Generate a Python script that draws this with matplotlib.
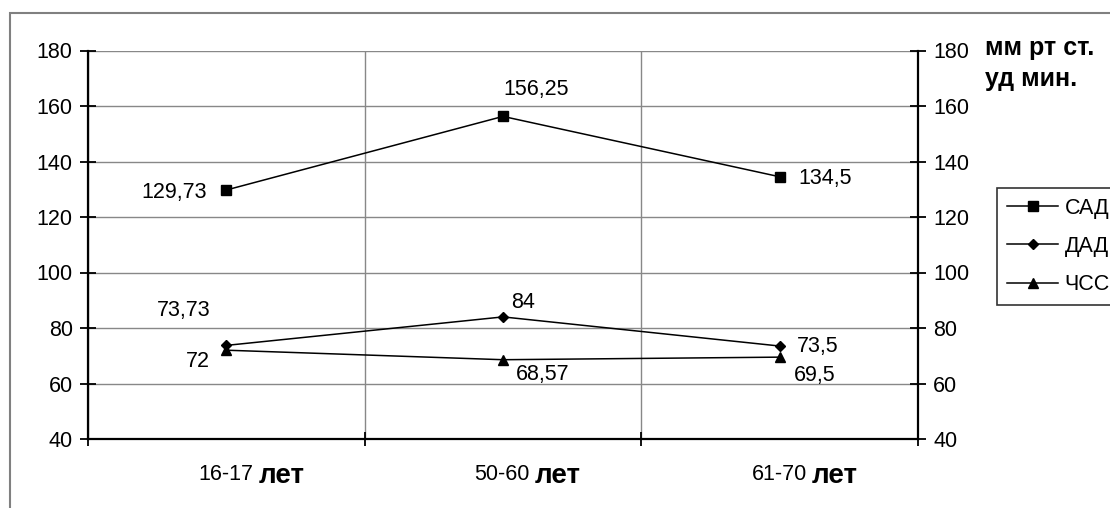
import numpy as np
import matplotlib.pyplot as plt
from matplotlib.patches import Rectangle

plt.rcParams['font.family'] = ['Liberation Sans', 'DejaVu Sans']

# группы по возрасту
groups = ['16-17', '50-60', '61-70']
sad = [129.73, 156.25, 134.5]
dad = [73.73, 84, 73.5]
chss = [72, 68.57, 69.5]

sad_labels = ['129,73', '156,25', '134,5']
dad_labels = ['73,73', '84', '73,5']
chss_labels = ['72', '68,57', '69,5']

yticks = [40, 60, 80, 100, 120, 140, 160, 180]

FS = 15.5

fig = plt.figure(figsize=(11.1, 5.08), dpi=100)
ax = fig.add_axes([88 / 1110, 1 - 439 / 508, 830 / 1110, 388.5 / 508])

x = np.arange(len(groups)) + 0.5
ax.plot(x, sad, color='black', lw=1.1, marker='s', ms=7.5, label='САД')
ax.plot(x, dad, color='black', lw=1.1, marker='D', ms=5, label='ДАД')
ax.plot(x, chss, color='black', lw=1.1, marker='^', ms=7.5, label='ЧСС')

ax.set_xlim(0, 3)
ax.set_ylim(40, 180)
ax.set_yticks(yticks)
ax.set_xticks([0, 1, 2, 3])
ax.set_xticklabels([])

ax.grid(True, color='#888888', lw=1)
ax.spines['top'].set_visible(False)
for side in ['left', 'right', 'bottom']:
    ax.spines[side].set_color('black')
    ax.spines[side].set_linewidth(1.6)

ax.tick_params(axis='y', which='both', direction='inout', length=12, width=1.3,
               labelsize=FS, pad=5, left=True, right=True,
               labelleft=True, labelright=True)
ax.tick_params(axis='x', direction='inout', length=10, width=1.3)

# подписи групп: цифры обычным шрифтом, "лет" жирным
for xi, g in zip(x, groups):
    ax.annotate(g, xy=(xi, 0), xycoords=('data', 'axes fraction'),
                xytext=(27 * 0.72, -36 * 0.72), textcoords='offset points',
                ha='right', va='center', fontsize=FS)
    ax.annotate('лет', xy=(xi, 0), xycoords=('data', 'axes fraction'),
                xytext=(32 * 0.72, -37 * 0.72), textcoords='offset points',
                ha='left', va='center', fontsize=20, fontweight='bold')

# подписи значений (смещения в пикселях)
sad_off = [(-19, -3, 'right'), (0, 27, 'left'), (19, -2, 'left')]
dad_off = [(-16, 35, 'right'), (8, 14, 'left'), (17, 0, 'left')]
chss_off = [(-16, -11, 'right'), (13, -15, 'left'), (14, -18, 'left')]
for vals, labs, offs in [(sad, sad_labels, sad_off), (dad, dad_labels, dad_off),
                         (chss, chss_labels, chss_off)]:
    for xi, v, t, (dx, dy, ha) in zip(x, vals, labs, offs):
        ax.annotate(t, xy=(xi, v), xytext=(dx * 0.72, dy * 0.72),
                    textcoords='offset points', ha=ha, va='center',
                    fontsize=FS)

fig.text(985 / 1110, 1 - 48 / 508, 'мм рт ст.', fontsize=18, fontweight='bold',
         ha='left', va='center')
fig.text(985 / 1110, 1 - 79 / 508, 'уд мин.', fontsize=18, fontweight='bold',
         ha='left', va='center')

leg = fig.legend(loc='upper left', bbox_to_anchor=(997 / 1110, 1 - 188 / 508),
                 fontsize=FS, frameon=True, fancybox=False, handlelength=2.4,
                 handletextpad=0.3, labelspacing=0.8, borderpad=0.45,
                 borderaxespad=0)
leg.get_frame().set_edgecolor('black')
leg.get_frame().set_linewidth(1.2)

# внешняя рамка диаграммы
fig.patches.append(Rectangle((10 / 1110, -0.1), 1.2, 1 - 13 / 508 + 0.1,
                             transform=fig.transFigure, fill=False,
                             edgecolor='#808080', lw=1.5))

fig.savefig('out.png', dpi=100)
